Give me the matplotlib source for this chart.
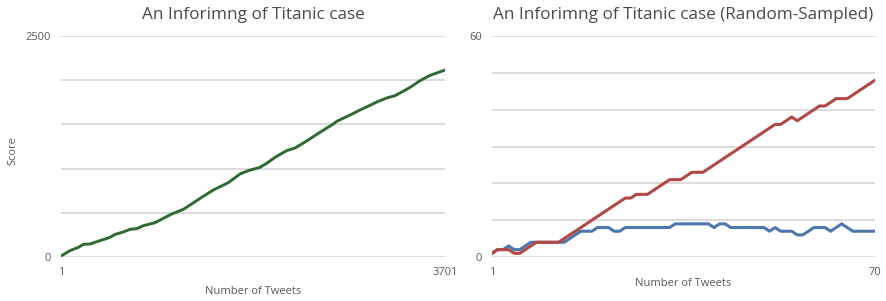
import numpy as np
import matplotlib.pyplot as plt

# full data set: cumulative score at sampled tweet numbers
tweets_all = [1, 88, 168, 216, 280, 377, 473, 521, 602, 666, 730, 794, 907, 987,
              1067, 1180, 1260, 1356, 1469, 1613, 1726, 1806, 1918, 1983, 2063,
              2175, 2256, 2368, 2481, 2625, 2658, 2786, 2882, 2979, 3043, 3140,
              3220, 3365, 3461, 3557, 3701]
score_all = [11, 72, 109, 143, 147, 185, 222, 256, 283, 313, 320, 354, 388, 437,
             486, 539, 600, 675, 758, 841, 939, 977, 1014, 1060, 1127, 1203, 1233,
             1312, 1399, 1505, 1535, 1606, 1663, 1716, 1753, 1799, 1825, 1919, 1995,
             2055, 2115]

# random sampled set, 70 tweets
red_vals = [1, 2, 2, 2, 1, 1, 2, 3, 4, 4, 4, 4, 4, 5, 6, 7, 8, 9, 10, 11,
            12, 13, 14, 15, 16, 16, 17, 17, 17, 18, 19, 20, 21, 21, 21, 22, 23, 23, 23, 24,
            25, 26, 27, 28, 29, 30, 31, 32, 33, 34, 35, 36, 36, 37, 38, 37, 38, 39, 40, 41,
            41, 42, 43, 43, 43, 44, 45, 46, 47, 48]
blue_vals = [1, 2, 2, 3, 2, 2, 3, 4, 4, 4, 4, 4, 4, 4, 5, 6, 7, 7, 7, 8,
             8, 8, 7, 7, 8, 8, 8, 8, 8, 8, 8, 8, 8, 9, 9, 9, 9, 9, 9, 9,
             8, 9, 9, 8, 8, 8, 8, 8, 8, 8, 7, 8, 7, 7, 7, 6, 6, 7, 8, 8,
             8, 7, 8, 9, 8, 7, 7, 7, 7, 7]
sample_x = np.arange(1, len(red_vals) + 1)

plt.rcParams['font.family'] = ['Open Sans', 'DejaVu Sans']
TEXT = '#595959'
GRID = '#d9d9d9'

fig = plt.figure(figsize=(8.86, 3.01), dpi=100)
ax1 = fig.add_axes([61/886, 44/301, 384/886, 221/301])
ax2 = fig.add_axes([492/886, 44/301, 383/886, 221/301])


def style_axes(ax, ymax, ystep, xmax):
    ax.set_xlim(1, xmax)
    ax.set_ylim(0, ymax)
    yt = np.arange(0, ymax + ystep, ystep)
    ax.set_yticks(yt)
    ax.set_yticklabels(['0'] + [''] * (len(yt) - 2) + [str(ymax)])
    ax.set_xticks([1, xmax])
    ax.set_xticklabels(['1', str(xmax)])
    ax.grid(axis='y', color=GRID, linewidth=1.3)
    ax.set_axisbelow(True)
    for s in ax.spines.values():
        s.set_visible(False)
    ax.tick_params(length=0, labelsize=8, colors=TEXT, pad=7)


ax1.plot(tweets_all, score_all, color='#2d6a30', linewidth=2.1, solid_joinstyle='round')
style_axes(ax1, 2500, 500, 3701)
ax1.set_title('An Inforimng of Titanic case', fontsize=12.3, color='#4a4a4a', pad=12)
ax1.set_ylabel('Score', fontsize=8, color=TEXT)
ax1.yaxis.set_label_coords(-0.112, 0.48)
ax1.set_xlabel('Number of Tweets', fontsize=8, color=TEXT, labelpad=6)

ax2.plot(sample_x, blue_vals, color='#4b78ae', linewidth=2.2, solid_joinstyle='round')
ax2.plot(sample_x, red_vals, color='#b04846', linewidth=2.2, solid_joinstyle='round')
style_axes(ax2, 60, 10, 70)
ax2.set_title('An Inforimng of Titanic case (Random-Sampled)', fontsize=12.3, color='#4a4a4a', pad=12)
ax2.set_xlabel('Number of Tweets', fontsize=8, color=TEXT, labelpad=0)

fig.savefig('out.png', dpi=100)
